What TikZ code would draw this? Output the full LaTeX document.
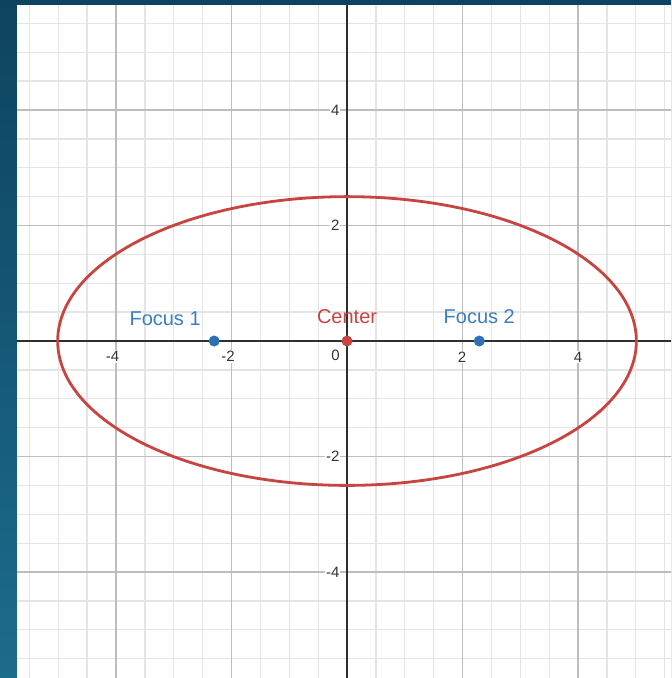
\documentclass[tikz,border=0pt]{standalone}
\usepackage{fontspec}
\setmainfont{Liberation Sans}
\definecolor{dred}{HTML}{C74440}
\definecolor{dblue}{HTML}{2D70B3}
\definecolor{lblue}{HTML}{3A7EC2}
\definecolor{frametop}{HTML}{0E4360}
\definecolor{framebot}{HTML}{1C6C8C}
\definecolor{minorc}{HTML}{E4E4E4}
\definecolor{majorc}{HTML}{BDBDBD}
\definecolor{axisc}{HTML}{2E2E2E}
\definecolor{tickc}{HTML}{333333}
\tikzset{
  minorgrid/.style={draw=minorc, line width=1.3pt},
  majorgrid/.style={draw=majorc, line width=1.4pt},
  axisline/.style={draw=axisc, line width=1.6pt},
  ticklab/.style={fill=white, inner sep=1pt, text=tickc, font=\fontsize{15}{17}\selectfont},
  dot/.style={circle, inner sep=0pt, minimum size=11pt},
  ptlab/.style={inner sep=0pt, font=\fontsize{20}{24}\selectfont},
  ellipsecurve/.style={draw=dred, line width=2.8pt}
}
\begin{document}
\begin{tikzpicture}[x=57.75pt,y=57.75pt]
\useasboundingbox (-6.009,-5.835) rectangle (5.610,5.905);
\shade[top color=frametop, bottom color=framebot] (-6.009,-5.835) rectangle (5.610,5.905);
\fill[white] (-5.714,-5.835) rectangle (5.610,5.818);
\begin{scope}
\clip (-5.714,-5.835) rectangle (5.610,5.818);
\draw[minorgrid] (-6,-6) grid[step=0.5] (6,6);
\draw[majorgrid] (-6,-6) grid[step=2] (6,6);
\coordinate (xl) at (-5.714,0);
\coordinate (xr) at (5.610,0);
\coordinate (yb) at (0,-5.835);
\coordinate (yt) at (0,5.818);
\draw[axisline] (xl) -- (xr);
\draw[axisline] (yb) -- (yt);
\end{scope}
% x tick labels
\node[ticklab] (xm4) at (-4.06,-0.27) {-4};
\node[ticklab] (xm2) at (-2.06,-0.27) {-2};
\node[ticklab] (x0) at (-0.2,-0.25) {0};
\node[ticklab] (x2) at (1.99,-0.28) {2};
\node[ticklab] (x4) at (4.0,-0.28) {4};
% y tick labels
\node[ticklab, anchor=east] (y4) at (-0.11,4.0) {4};
\node[ticklab, anchor=east] (y2) at (-0.11,2.0) {2};
\node[ticklab, anchor=east] (ym2) at (-0.11,-2.0) {-2};
\node[ticklab, anchor=east] (ym4) at (-0.11,-4.0) {-4};
% ellipse
\draw[ellipsecurve] (0,0) ellipse [x radius=5.01, y radius=2.5];
% points
\node[dot, fill=dred] (center) at (0,0) {};
\node[dot, fill=dblue] (f1) at (-2.30,0) {};
\node[dot, fill=dblue] (f2) at (2.29,0) {};
\node[ptlab, text=dred] (centerlab) at (0,0.43) {Center};
\node[ptlab, text=lblue] (f1lab) at (-3.15,0.38) {Focus 1};
\node[ptlab, text=lblue] (f2lab) at (2.29,0.43) {Focus 2};
\end{tikzpicture}
\end{document}
